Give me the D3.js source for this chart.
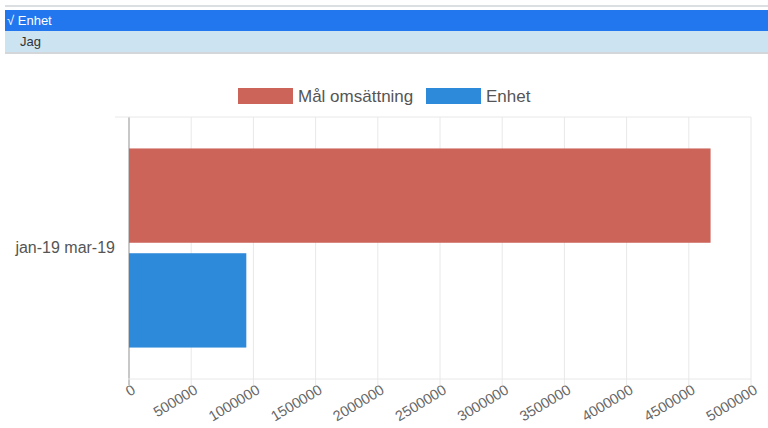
<html>
  <head>
    <script src="https://cdn.jsdelivr.net/npm/d3@7"></script>
    <style>
      body { margin: 0; background: #fff; font-family: "Liberation Sans", Arial, sans-serif; }
      svg { display: block; }
    </style>
  </head>
  <body>
    <svg id=chart width=768 height=428></svg>
    <script>
      // dropdown rows shown above the chart
      var menuItems = ["Enhet", "Jag"];
      var selected = "Enhet";

      var categories = ["jan-19 mar-19"];
      var seriesNames = ["Mål omsättning", "Enhet"];
      var seriesColors = ["#cd645a", "#2d89d9"];
      var malOmsattning = [4675000];
      var enhet = [943000];
      var xTicks = [0, 500000, 1000000, 1500000, 2000000, 2500000, 3000000, 3500000, 4000000, 4500000, 5000000];

      var svg = d3.select("#chart");

      // menu
      svg.append("rect").attr("x", 5).attr("y", 5).attr("width", 763).attr("height", 2).attr("fill", "#dcdfe2");
      var menu = svg.selectAll("g.item").data(menuItems).enter().append("g")
        .attr("class", "item")
        .attr("transform", function(d, i) { return "translate(5," + (10 + i * 21) + ")"; });
      menu.append("rect")
        .attr("width", 763).attr("height", 21)
        .attr("fill", function(d) { return d == selected ? "#2277ee" : "#cce4f2"; });
      menu.append("text")
        .attr("x", function(d) { return d == selected ? 2 : 15; })
        .attr("y", 15)
        .attr("font-size", 13)
        .attr("fill", function(d) { return d == selected ? "#fff" : "#333"; })
        .text(function(d) { return d == selected ? "\u221A " + d : d; });
      svg.append("rect").attr("x", 5).attr("y", 52).attr("width", 763).attr("height", 2).attr("fill", "#d3d7da");

      // chart area (plotTop, not top: window.top is reserved)
      var plotLeft = 129, plotRight = 751, plotTop = 117, plotBottom = 379;
      var x = d3.scaleLinear().domain([0, 5000000]).range([plotLeft, plotRight]);
      // category takes 80% of its slot, each bar 90% of its sub-slot
      var y = d3.scaleBand().domain(categories).range([plotTop, plotBottom]).paddingInner(0).paddingOuter(0.125);
      var ySub = d3.scaleBand().domain(seriesNames).range([0, y.bandwidth()]).paddingInner(0.1).paddingOuter(0.05);

      // gridlines
      svg.append("g").selectAll("line").data(xTicks).enter().append("line")
        .attr("x1", function(d) { return x(d); }).attr("x2", function(d) { return x(d); })
        .attr("y1", plotTop).attr("y2", plotBottom + 6)
        .attr("stroke", function(d) { return d == 0 ? "#c8c8c8" : "#e8e8e8"; })
        .attr("stroke-width", function(d) { return d == 0 ? 2 : 1; });
      svg.append("line").attr("x1", 115).attr("x2", plotRight).attr("y1", plotTop).attr("y2", plotTop)
        .attr("stroke", "#e8e8e8");
      svg.append("line").attr("x1", plotLeft - 1).attr("x2", plotRight).attr("y1", plotBottom).attr("y2", plotBottom)
        .attr("stroke", "#e8e8e8");

      var data = [malOmsattning, enhet];
      categories.forEach(function(c, ci) {
        svg.append("g").selectAll("rect").data(seriesNames).enter().append("rect")
          .attr("x", x(0))
          .attr("y", function(s) { return y(c) + ySub(s); })
          .attr("width", function(s, i) { return x(data[i][ci]) - x(0); })
          .attr("height", ySub.bandwidth())
          .attr("fill", function(s, i) { return seriesColors[i]; });
      });

      // category label
      svg.append("g").selectAll("text").data(categories).enter().append("text")
        .attr("x", 115)
        .attr("y", function(d) { return y(d) + y.bandwidth() / 2 + 5; })
        .attr("text-anchor", "end")
        .attr("font-size", 16)
        .attr("fill", "#555")
        .text(function(d) { return d; });

      // x tick labels, rotated
      var xAxis = d3.axisBottom(x).tickValues(xTicks).tickSize(0).tickFormat(function(d) { return d; });
      var ax = svg.append("g").attr("transform", "translate(0," + (plotBottom + 6) + ")").call(xAxis);
      ax.select(".domain").remove();
      ax.selectAll("text")
        .attr("font-size", 14.5)
        .attr("font-family", "Liberation Sans, Arial, sans-serif")
        .attr("fill", "#666")
        .attr("text-anchor", "end")
        .attr("dy", "0.7em")
        .attr("y", 0)
        .attr("x", 2)
        .attr("transform", "rotate(-31)");

      // legend
      var lx = [238, 426];
      var legend = svg.selectAll("g.legend").data(seriesNames).enter().append("g")
        .attr("class", "legend")
        .attr("transform", function(d, i) { return "translate(" + lx[i] + ",88)"; });
      legend.append("rect").attr("width", 55).attr("height", 16)
        .attr("fill", function(d, i) { return seriesColors[i]; });
      legend.append("text").attr("x", 60).attr("y", 14)
        .attr("font-size", 17).attr("fill", "#555")
        .text(function(d) { return d; });
    </script>
  </body>
</html>
